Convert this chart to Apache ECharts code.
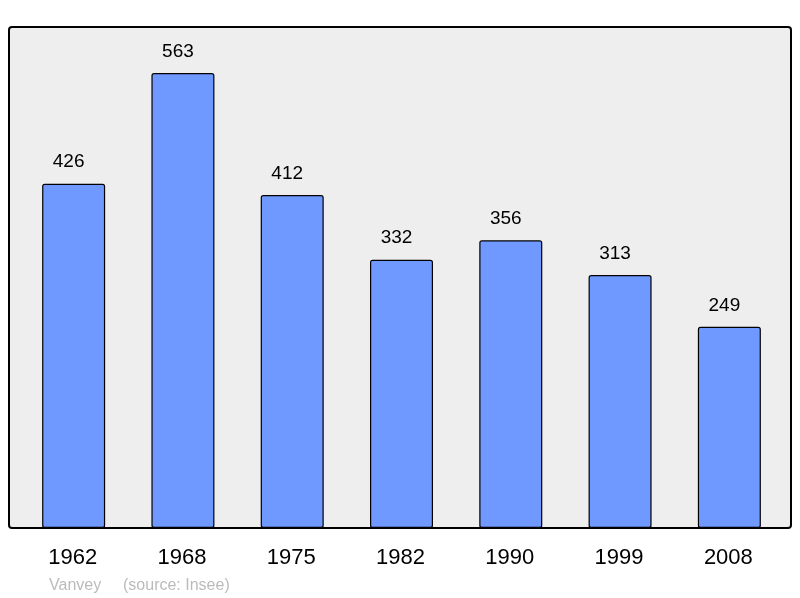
<!DOCTYPE html>
<html><head><meta charset="utf-8">
<script src="https://cdn.jsdelivr.net/npm/echarts@6/dist/echarts.min.js"></script>
<style>html,body{margin:0;padding:0;background:#fff}#c{width:800px;height:598px}</style>
</head><body><div id="c"></div>
<script>
var years = ['1962','1968','1975','1982','1990','1999','2008'];
var population = [426, 563, 412, 332, 356, 313, 249];
var footerName = 'Vanvey';
var footerSource = '(source: Insee)';

var chart = echarts.init(document.getElementById('c'), null, {renderer: 'canvas'});
chart.setOption({
  animation: false,
  backgroundColor: '#ffffff',
  graphic: [
    {type: 'rect', z: -10, shape: {x: 9, y: 27, width: 782, height: 501, r: 3},
     style: {fill: '#eeeeee', stroke: '#000000', lineWidth: 2}},
    {type: 'text', left: 49, top: 578, style: {text: footerName, fill: '#bbbbbb', font: '16px "Liberation Sans", Arial, sans-serif'}},
    {type: 'text', left: 123, top: 578, style: {text: footerSource, fill: '#bbbbbb', font: '16px "Liberation Sans", Arial, sans-serif'}}
  ],
  grid: {left: 19, right: 16, top: 27, bottom: 70, containLabel: false},
  xAxis: {
    type: 'category', data: years,
    axisLine: {show: false}, axisTick: {show: false},
    axisLabel: {color: '#000', fontSize: 22, fontFamily: '"Liberation Sans", Arial, sans-serif', margin: 19,
                padding: [0, 2, 0, 0]}
  },
  yAxis: {type: 'value', min: 0, max: 620, show: false, splitLine: {show: false}},
  series: [{
    type: 'bar', data: population, barWidth: 63,
    itemStyle: {color: '#7099ff', borderColor: '#000', borderWidth: 1.2, borderRadius: 2},
    label: {show: true, position: 'top', distance: 12, offset: [-5, 0], color: '#000', fontSize: 19,
            fontFamily: '"Liberation Sans", Arial, sans-serif'}
  }]
});
</script></body></html>
